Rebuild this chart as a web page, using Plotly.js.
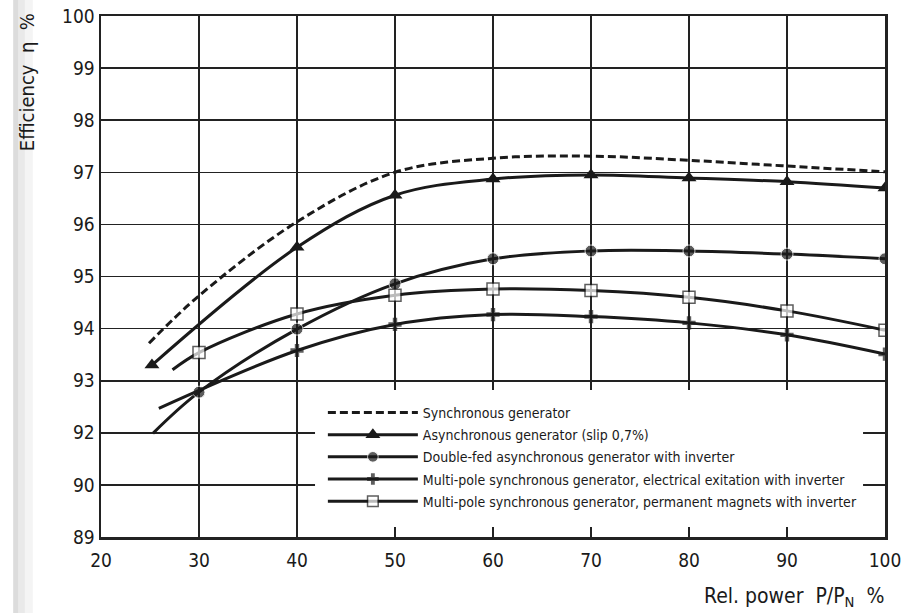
<!DOCTYPE html>
<html>
<head>
<meta charset="utf-8">
<script src="https://cdn.plot.ly/plotly-3.0.1.min.js"></script>
<style>html,body{margin:0;padding:0;background:#fff;}#chart{width:910px;height:613px;}</style>
</head>
<body>
<div id="chart"></div>
<script>
// ---- data ----
const seriesNames = [
  "Synchronous generator",
  "Asynchronous generator (slip 0,7%)",
  "Double-fed asynchronous generator with inverter",
  "Multi-pole synchronous generator, electrical exitation with inverter",
  "Multi-pole synchronous generator, permanent magnets with inverter"
];
const syncX  = [24.9, 30, 40, 50, 60, 70, 80, 90, 100];
const syncY  = [93.72, 94.63, 96.05, 97.0, 97.27, 97.31, 97.23, 97.12, 97.01];
const asyncX = [25.2, 40, 50, 60, 70, 80, 90, 100];
const asyncY = [93.3, 95.56, 96.56, 96.87, 96.95, 96.89, 96.82, 96.70];
const dfX    = [25.3, 30, 40, 50, 60, 70, 80, 90, 100];
const dfY    = [91.99, 92.78, 93.99, 94.86, 95.34, 95.49, 95.49, 95.43, 95.34];
const eeX    = [25.9, 40, 50, 60, 70, 80, 90, 100];
const eeY    = [92.47, 93.58, 94.08, 94.27, 94.23, 94.11, 93.88, 93.51];
const pmX    = [27.3, 30, 40, 50, 60, 70, 80, 90, 100];
const pmY    = [93.21, 93.54, 94.28, 94.64, 94.76, 94.73, 94.60, 94.34, 93.97];
const xTicks = [20, 30, 40, 50, 60, 70, 80, 90, 100];
const yTickVals = [90, 91, 92, 93, 94, 95, 96, 97, 98, 99, 100];
const yTickText = ["89", "90", "92", "93", "94", "95", "96", "97", "98", "99", "100"];

const FONT = "'DejaVu Sans Condensed', 'DejaVu Sans', sans-serif";
const INK = "#1a1a1a";

function sizes(xs, first, rest) { return xs.map((_, i) => i === 0 ? first : rest); }

const traces = [
  { x: syncX, y: syncY, name: seriesNames[0], mode: "lines", legendgroup: "g1",
    line: { color: INK, width: 3, dash: "8px,4px", shape: "spline", smoothing: 1 } },
  { x: asyncX, y: asyncY, name: seriesNames[1], mode: "lines+markers", legendgroup: "g2",
    line: { color: INK, width: 3, shape: "spline", smoothing: 1 },
    marker: { symbol: "triangle-up", size: 13, color: INK } },
  { x: dfX, y: dfY, name: seriesNames[2], mode: "lines+markers", legendgroup: "g3",
    line: { color: INK, width: 3, shape: "spline", smoothing: 1 },
    marker: { symbol: "circle", size: sizes(dfX, 0, 12), color: INK, line: { color: "#fff", width: 1 } } },
  { x: eeX, y: eeY, name: seriesNames[3], mode: "lines+markers", legendgroup: "g4",
    line: { color: INK, width: 3, shape: "spline", smoothing: 1 },
    marker: { symbol: "cross", size: sizes(eeX, 0, 11), color: INK, line: { width: 0 } } },
  { x: pmX, y: pmY, name: seriesNames[4], mode: "lines+markers", legendgroup: "g5",
    line: { color: INK, width: 3, shape: "spline", smoothing: 1 },
    marker: { symbol: "square", size: sizes(pmX, 0, 12), color: "#fff", line: { color: INK, width: 1.5 } } }
];

const layout = {
  width: 910, height: 613,
  margin: { l: 101, r: 25, t: 16, b: 76, pad: 0 },
  paper_bgcolor: "#fff", plot_bgcolor: "#fff",
  font: { family: FONT, color: INK, size: 14 },
  showlegend: true,
  legend: {
    x: 0.283, xanchor: "left", y: 0.269, yanchor: "top",
    bgcolor: "rgba(0,0,0,0)", borderwidth: 0,
    itemwidth: 90, font: { family: FONT, size: 14, color: INK },
    traceorder: "grouped", tracegroupgap: 1
  },
  xaxis: {
    range: [20, 100], tickmode: "array", tickvals: xTicks,
    showgrid: true, gridcolor: "#222", gridwidth: 1.6,
    showline: true, linecolor: "#222", linewidth: 2.5, mirror: true,
    zeroline: false, ticks: "", ticklabelstandoff: 5,
    tickfont: { family: FONT, size: 19, color: INK }
  },
  yaxis: {
    range: [90, 100], tickmode: "array", tickvals: yTickVals, ticktext: yTickText,
    showgrid: true, gridcolor: "#222", gridwidth: 1.6,
    showline: true, linecolor: "#222", linewidth: 2.5, mirror: true,
    zeroline: false, ticks: "", ticklabelstandoff: 0,
    tickfont: { family: FONT, size: 19, color: INK }
  },
  shapes: [
    { type: "rect", xref: "x", yref: "y", x0: 41.84, x1: 97.76, y0: 90.19, y1: 92.82,
      fillcolor: "#fff", line: { width: 0 }, layer: "above" },
    { type: "rect", xref: "paper", yref: "paper", x0: -0.112, x1: -0.105, y0: -0.16, y1: 1.05,
      fillcolor: "#dcdcdc", line: { width: 0 }, layer: "below" },
    { type: "rect", xref: "paper", yref: "paper", x0: -0.105, x1: -0.097, y0: -0.16, y1: 1.05,
      fillcolor: "#e9e9e9", line: { width: 0 }, layer: "below" },
    { type: "rect", xref: "paper", yref: "paper", x0: -0.097, x1: -0.087, y0: -0.16, y1: 1.05,
      fillcolor: "#f4f4f4", line: { width: 0 }, layer: "below" }
  ],
  annotations: [
    { text: "Efficiency  η  %", xref: "paper", yref: "paper",
      x: -0.095, y: 0.872, xanchor: "center", yanchor: "middle", textangle: -90,
      showarrow: false, font: { family: FONT, size: 20, color: INK } },
    { text: "Rel. power  P/P<sub>N</sub>  %", xref: "paper", yref: "paper",
      x: 0.767, y: -0.115, xanchor: "left", yanchor: "middle",
      showarrow: false, font: { family: FONT, size: 21, color: INK } }
  ]
};

Plotly.newPlot("chart", traces, layout, { displayModeBar: false, staticPlot: true });
</script>
</body>
</html>
